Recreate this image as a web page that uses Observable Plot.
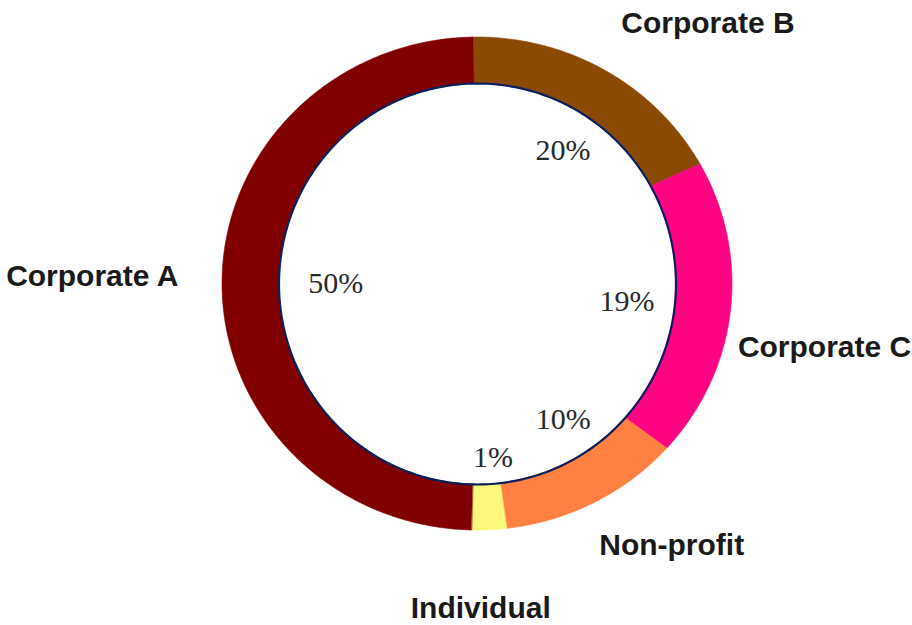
<!DOCTYPE html>
<html>
<head>
<meta charset="utf-8">
<script src="https://cdn.jsdelivr.net/npm/d3@7"></script>
<script src="https://cdn.jsdelivr.net/npm/@observablehq/plot@0.6"></script>
<style>
  html, body { margin: 0; padding: 0; background: #ffffff; }
  #chart svg { display: block; }
</style>
</head>
<body>
<div id="chart"></div>
<script>
// ---- Data (clockwise from 12 o'clock) ----
const categories = ["Corporate B", "Corporate C", "Non-profit", "Individual", "Corporate A"];
const shares = [17.2, 19.7, 11.5, 2.2, 49.4];            // share of the ring as drawn (%)
const pctLabels = ["20%", "19%", "10%", "1%", "50%"];      // printed percentage labels
const sliceColors = ["#8B4A03", "#FF0482", "#FF8040", "#F9F77C", "#800000"];

// ---- Layout ----
const W = 912, H = 625;
const CX = 477, CY = 283.5;       // centre in pixels
const RX = 255, RY = 246.5;       // outer radii in pixels (one data unit)
const innerRX = 198.5 / RX, innerRY = 200.5 / RY;
const startDeg = -0.9;
const pctRadius = 0.63, catRadius = 1.35;
// pixel nudges for label placement
const pctNudge = {"Corporate B": [5, 1], "Corporate C": [-10, 0], "Non-profit": [12, -3], "Individual": [8, 18], "Corporate A": [19, 0]};
const catNudge = {"Corporate B": [58, 27], "Corporate C": [5, 26], "Non-profit": [36, -34], "Individual": [-13, -8], "Corporate A": [-41, -7]};

const toRad = d => d * Math.PI / 180;
const total = d3.sum(shares);
let acc = toRad(startDeg);
const slices = categories.map((name, i) => {
  const a0 = acc, a1 = acc + shares[i] / total * 2 * Math.PI;
  acc = a1;
  return {name, a0, a1, mid: (a0 + a1) / 2, pct: pctLabels[i]};
});

// ring points for each slice (annular sector as area between inner and outer edge)
const ring = [];
for (const s of slices) {
  const n = Math.max(2, Math.ceil((s.a1 - s.a0) / toRad(0.5)));
  for (let k = 0; k <= n; k++) {
    const a = s.a0 + (s.a1 - s.a0) * k / n;
    ring.push({
      name: s.name,
      xi: innerRX * Math.sin(a), yi: innerRY * Math.cos(a),
      xo: Math.sin(a), yo: Math.cos(a)
    });
  }
}
const innerEdge = d3.range(0, 361, 1).map(d => ({x: innerRX * Math.sin(toRad(d)), y: innerRY * Math.cos(toRad(d))}));

const pctData = slices.map(s => ({
  text: s.pct,
  x: pctRadius * Math.sin(s.mid) + pctNudge[s.name][0] / RX,
  y: pctRadius * Math.cos(s.mid) - pctNudge[s.name][1] / RY
}));
const catData = slices.map(s => ({
  text: s.name,
  x: catRadius * Math.sin(s.mid) + catNudge[s.name][0] / RX,
  y: catRadius * Math.cos(s.mid) - catNudge[s.name][1] / RY
}));

const chart = Plot.plot({
  width: W,
  height: H,
  margin: 0,
  style: {background: "#ffffff", overflow: "visible"},
  x: {domain: [-CX / RX, (W - CX) / RX], axis: null},
  y: {domain: [(CY - H) / RY, CY / RY], axis: null},
  color: {domain: categories, range: sliceColors},
  marks: [
    Plot.area(ring, {x1: "xi", y1: "yi", x2: "xo", y2: "yo", z: "name", fill: "name", stroke: "name", strokeWidth: 0.6}),
    Plot.line(innerEdge, {x: "x", y: "y", stroke: "#0a1f5c", strokeWidth: 2.2}),
    Plot.text(pctData, {x: "x", y: "y", text: "text", fontFamily: "Liberation Serif, DejaVu Serif, serif", fontSize: 30, fill: "#2a2a2a"}),
    Plot.text(catData, {x: "x", y: "y", text: "text", fontFamily: "Liberation Sans, Arial, sans-serif", fontSize: 30, fontWeight: "bold", fill: "#1a1a1a", style: {letterSpacing: "-2px"}})
  ]
});
document.getElementById("chart").appendChild(chart);
</script>
</body>
</html>
